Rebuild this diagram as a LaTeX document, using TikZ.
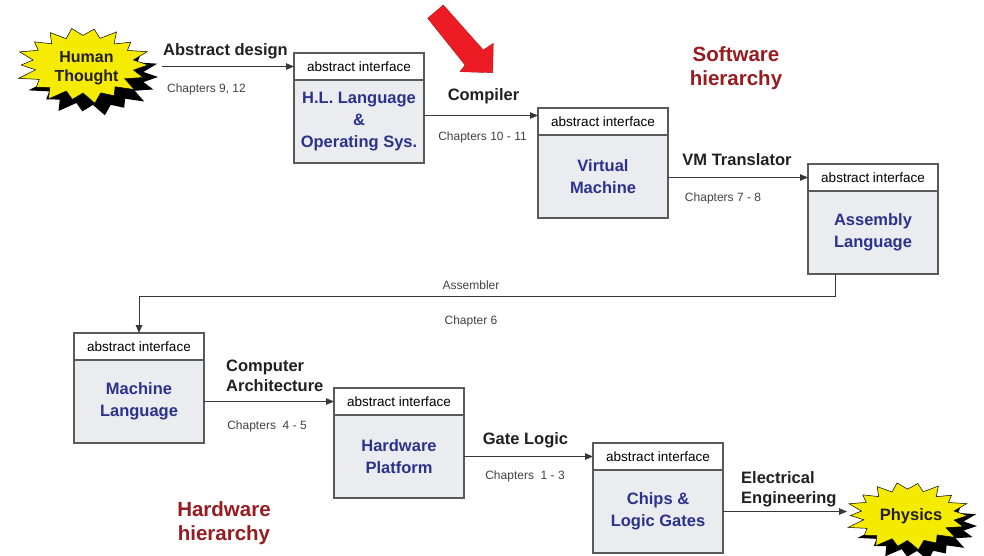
\documentclass[tikz,border=0pt]{standalone}
\usepackage{fontspec}
\setmainfont{Liberation Sans}
\usetikzlibrary{arrows.meta}
\definecolor{boxfill}{RGB}{235,236,239}
\definecolor{navy}{RGB}{43,50,140}
\definecolor{darkred}{RGB}{150,28,32}
\definecolor{burstyellow}{RGB}{245,235,0}
\definecolor{arrowred}{RGB}{237,28,36}
\definecolor{linegray}{RGB}{55,55,55}
\definecolor{bordergray}{RGB}{90,90,90}
\definecolor{inkblack}{RGB}{35,31,32}
\newcommand\drawburst[5]{%
  \fill[#5] plot[variable=\t, samples at={0,...,35}]
    ({#1+#3*(mod(\t,2)==0 ? 1+0.06*sin(\t*97) : 0.77+0.03*cos(\t*53))*cos(\t*10)},
     {#2+#4*(mod(\t,2)==0 ? 1+0.06*sin(\t*97) : 0.77+0.03*cos(\t*53))*sin(\t*10)}) -- cycle;}
\tikzset{
  hdr/.style={draw=bordergray, line width=1.1pt, fill=white, minimum width=130pt,
    minimum height=27pt, inner sep=0pt, outer sep=0pt, text=black, font=\fontsize{13.5}{16}\selectfont},
  bodybox/.style={draw=bordergray, line width=1.1pt, fill=boxfill, minimum width=130pt,
    minimum height=83pt, inner sep=0pt, outer sep=0pt, align=center, text=navy,
    font=\fontsize{16.5}{22}\selectfont\bfseries},
  lbl/.style={inner sep=0pt, text=inkblack, font=\fontsize{16.5}{20}\selectfont\bfseries},
  chap/.style={inner sep=0pt, text=inkblack!85, font=\fontsize{12}{14}\selectfont},
  conn/.style={draw=linegray, line width=0.9pt, -{Triangle[length=8pt,width=6.5pt]}},
  hier/.style={inner sep=0pt, text=darkred, align=center, font=\fontsize{20.5}{23.5}\selectfont\bfseries},
}
\begin{document}
\begin{tikzpicture}[x=1pt,y=-1pt]
\useasboundingbox (0,0) rectangle (984,555);
\fill[white] (0,0) rectangle (984,555);

% bursts
\drawburst{93}{77}{65}{37}{black}
\drawburst{83}{65}{65}{37}{burstyellow, draw=black, line width=0.5pt}
\drawburst{917}{526}{60}{33}{black}
\drawburst{907.5}{515.5}{60}{33}{burstyellow, draw=black, line width=0.5pt}
\node[lbl, align=center, font=\fontsize{16}{19}\selectfont\bfseries] (ht) at (86.5,68) {Human\\Thought};
\node[lbl, anchor=base] (phys) at (911,520.7) {Physics};
\coordinate (htout) at (162,66);
\coordinate (physin) at (847,512);

% red arrow
\fill[arrowred, draw=arrowred!75!black, line width=0.4pt]
  (427.7,18.3) -- (443.3,5) -- (483.3,50) -- (493.3,43.3) -- (492.7,72.7)
  -- (460,71.7) -- (465,65) -- cycle;

% boxes
\node[hdr, anchor=north west] (hl) at (294,53) {abstract interface};
\node[bodybox, anchor=north] (hlb) at (hl.south) {H.L. Language\\\&\\Operating Sys.};
\node[hdr, anchor=north west] (vm) at (538,108) {abstract interface};
\node[bodybox, anchor=north] (vmb) at (vm.south) {Virtual\\Machine};
\node[hdr, anchor=north west] (asm) at (808,164) {abstract interface};
\node[bodybox, anchor=north] (asmb) at (asm.south) {Assembly\\Language};
\node[hdr, anchor=north west] (ml) at (74,333) {abstract interface};
\node[bodybox, anchor=north] (mlb) at (ml.south) {Machine\\Language};
\node[hdr, anchor=north west] (hw) at (334,388) {abstract interface};
\node[bodybox, anchor=north] (hwb) at (hw.south) {Hardware\\Platform};
\node[hdr, anchor=north west] (ch) at (593,443) {abstract interface};
\node[bodybox, anchor=north] (chb) at (ch.south) {Chips \&\\Logic Gates};

% connectors
\coordinate (vmin) at ([yshift=6pt]vm.west);
\draw[conn] (htout |- hl.west) -- (hl.west);
\draw[conn] (hlb.east |- vmin) -- (vmin);
\draw[conn] (vmb.east |- asm.west) -- (asm.west);
\draw[conn] ([xshift=-37.5pt]asmb.south) -- ++(0,22) -| (ml.north);
\draw[conn] (mlb.east) -- (mlb.east -| hw.west);
\draw[conn] (hwb.east) -- (hwb.east -| ch.west);
\draw[conn] (chb.east) -- (chb.east -| physin);

% labels
\node[lbl, anchor=base] (l1) at (225.5,55) {Abstract design};
\node[chap, anchor=base] (c1) at (206.5,92) {Chapters 9, 12};
\node[lbl, anchor=base] (l2) at (483.5,100) {Compiler};
\node[chap, anchor=base] (c2) at (482.5,140) {Chapters 10 - 11};
\node[lbl, anchor=base] (l3) at (737,165) {VM Translator};
\node[chap, anchor=base] (c3) at (723,201) {Chapters 7 - 8};
\node[chap, anchor=base] (l4) at (471,289) {Assembler};
\node[chap, anchor=base] (c4) at (471,324) {Chapter 6};
\node[lbl, anchor=west, align=left] (l5) at (226,375.8) {Computer\\Architecture};
\node[chap, anchor=base] (c5) at (267,429) {Chapters~~4 - 5};
\node[lbl, anchor=base] (l6) at (525.5,444) {Gate Logic};
\node[chap, anchor=base] (c6) at (525,479) {Chapters~~1 - 3};
\node[lbl, anchor=west, align=left] (l7) at (741,489) {Electrical\\Engineering};

\node[hier] (sw) at (736,68) {Software\\hierarchy};
\node[hier] (hwh) at (224,523) {Hardware\\hierarchy};
\end{tikzpicture}
\end{document}
